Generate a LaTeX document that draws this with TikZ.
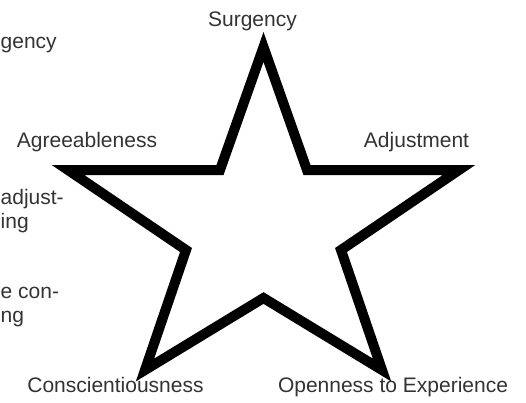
\documentclass[tikz,border=0pt]{standalone}
\usepackage{fontspec}
\setmainfont{Liberation Sans}
\definecolor{labelgray}{HTML}{333333}

\begin{document}
\begin{tikzpicture}[x=1pt, y=-1pt, every node/.style={font=\fontsize{21}{24.5}\selectfont, text=labelgray, inner sep=0pt}]
  \useasboundingbox (0,0) rectangle (526,402);

  % the star
  \draw[line width=10pt, miter limit=10] (263.5,47) -- (307,170) -- (459,170) -- (341,250)
    -- (382,370) -- (263.5,298) -- (145,370) -- (186,250) -- (68,170) -- (220,170) -- cycle;

  \node[anchor=base] (surgency) at (252.5,26) {Surgency};
  \node[anchor=base] (agree) at (87,147) {Agreeableness};
  \node[anchor=base] (adjust) at (416.5,147) {Adjustment};
  \node[anchor=base] (consc) at (115.5,392) {Conscientiousness};
  \node[anchor=base] (open) at (393,392) {Openness to Experience};

  % text at the left edge
  \node[anchor=base west] (cutA) at (0.5,48) {gency};
  \node[anchor=base west] (cutB) at (0.5,204) {adjust-};
  \node[anchor=base west] (cutC) at (0.5,228) {ing};
  \node[anchor=base west] (cutD) at (0.5,298) {e con-};
  \node[anchor=base west] (cutE) at (0.5,322) {ng};
\end{tikzpicture}
\end{document}
